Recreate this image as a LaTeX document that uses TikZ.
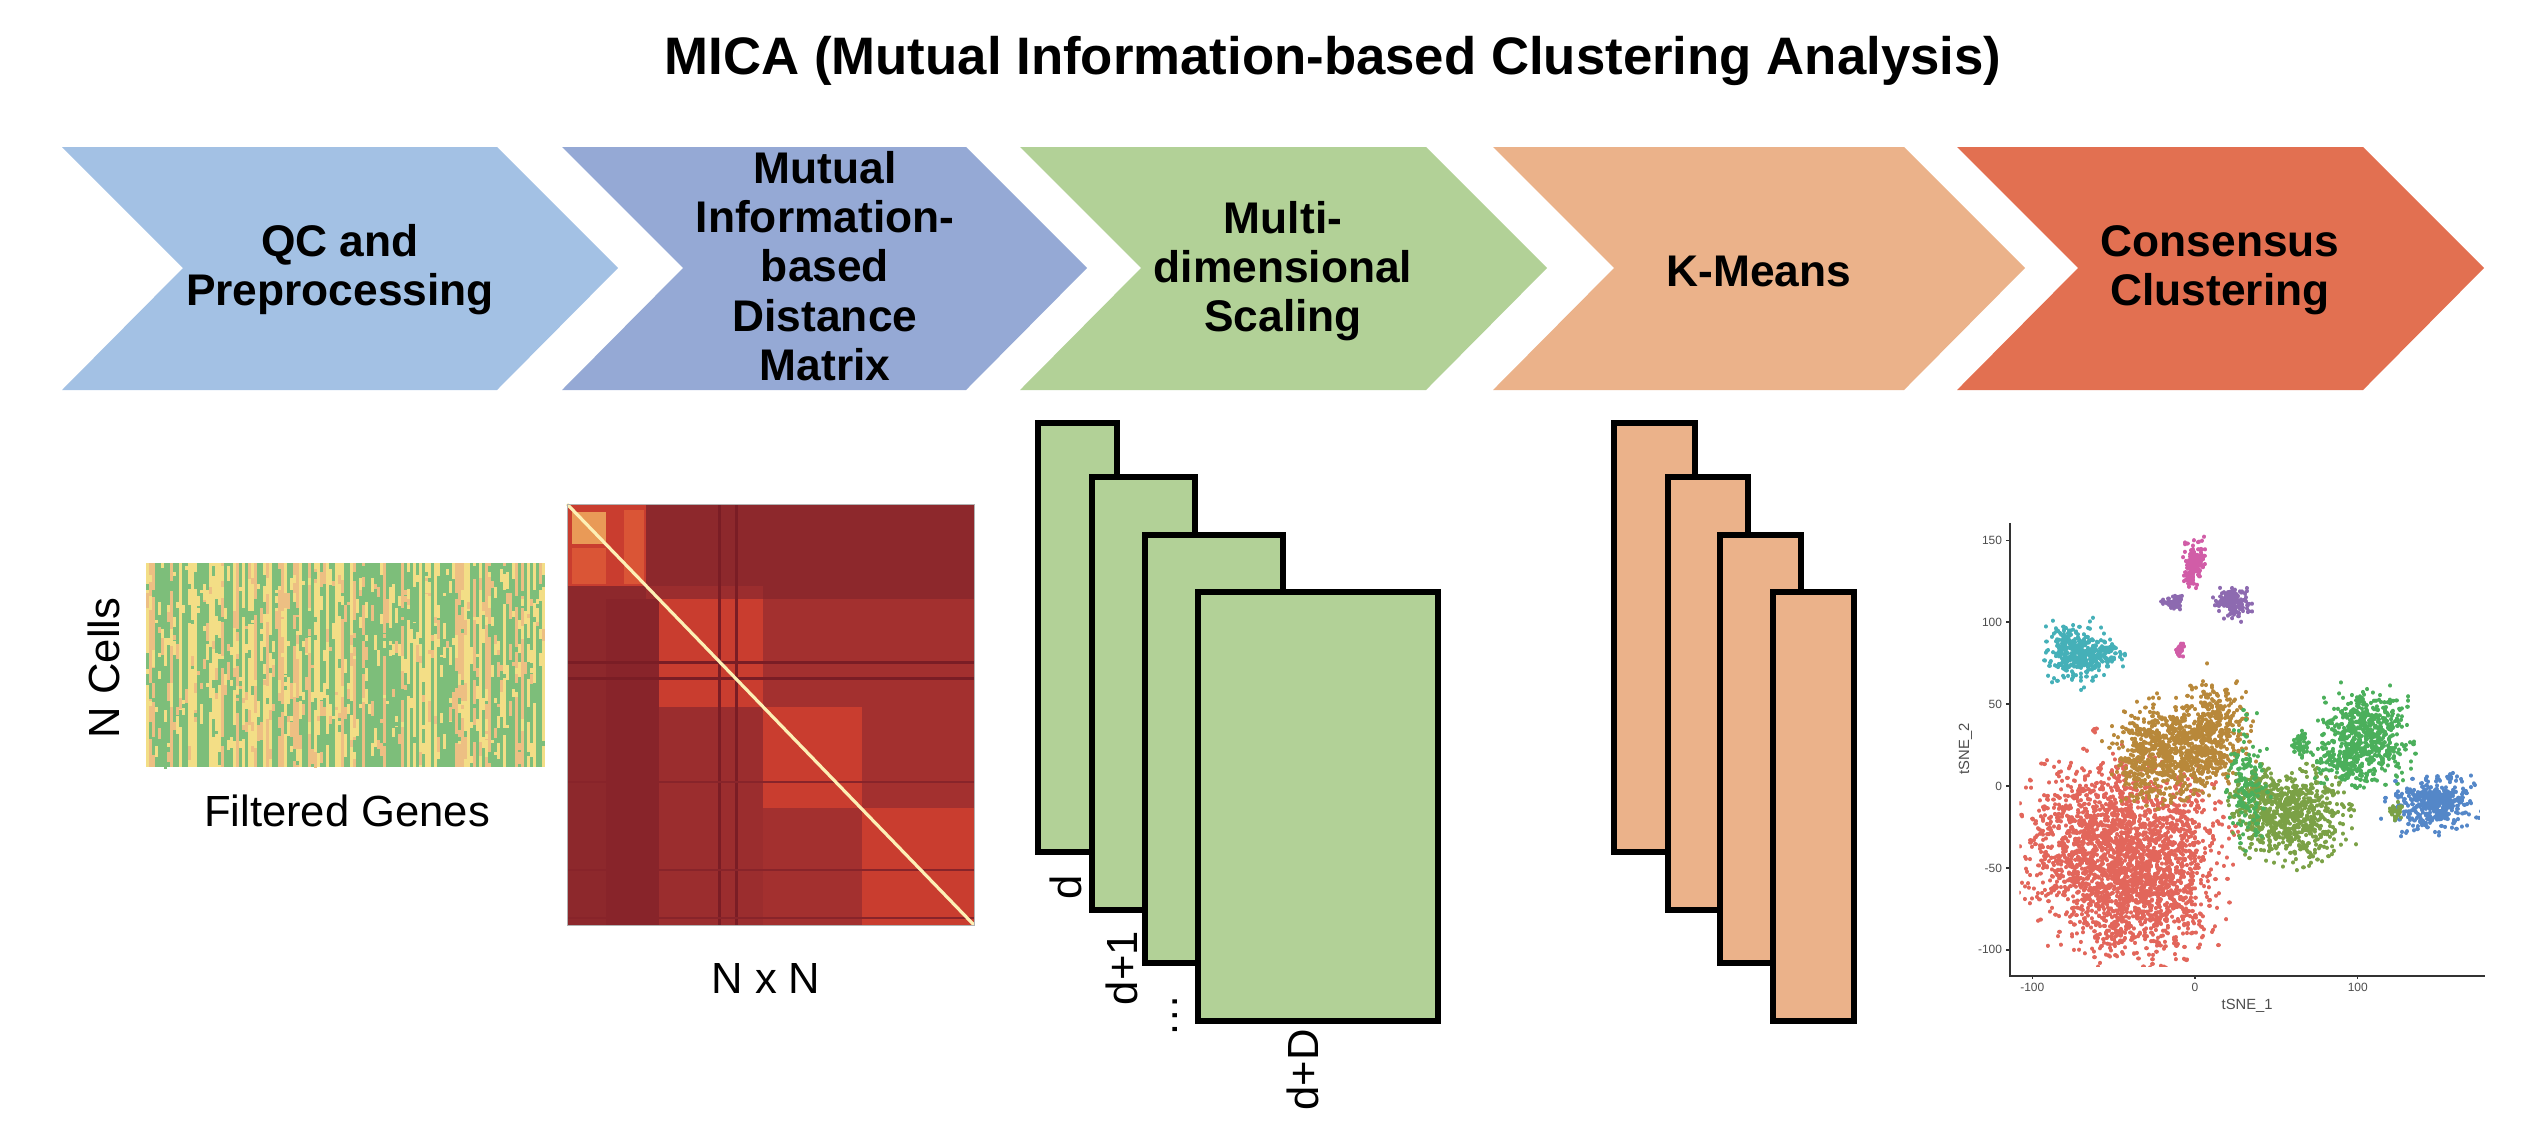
\documentclass[tikz,border=0pt]{standalone}
\usepackage{fontspec}
\setmainfont{Liberation Sans}
\usetikzlibrary{positioning}

\definecolor{chA}{HTML}{A3C1E4}
\definecolor{chB}{HTML}{95A9D5}
\definecolor{chC}{HTML}{B2D197}
\definecolor{chD}{HTML}{EBB28A}
\definecolor{chE}{HTML}{E27051}
\definecolor{hm0}{HTML}{7DBE7A}
\definecolor{hm1}{HTML}{F3DE86}
\definecolor{hm2}{HTML}{EDBF83}
\definecolor{mxdark}{HTML}{8D282C}
\definecolor{mxband}{HTML}{88242A}
\definecolor{mxmid}{HTML}{9B2D2E}
\definecolor{mxmidb}{HTML}{A3302F}
\definecolor{mxred}{HTML}{C93D2F}
\definecolor{mxlight}{HTML}{DA5536}
\definecolor{mxorange}{HTML}{E99A57}
\definecolor{mxline}{HTML}{7A1D25}
\definecolor{mxdiag}{HTML}{FDF0B5}
\definecolor{clred}{HTML}{E2665B}
\definecolor{clgold}{HTML}{B8883A}
\definecolor{clolive}{HTML}{7BA146}
\definecolor{clgreen}{HTML}{4BAF5B}
\definecolor{clblue}{HTML}{5487C8}
\definecolor{clteal}{HTML}{45B0B8}
\definecolor{clpurple}{HTML}{8D6AB0}
\definecolor{clpink}{HTML}{D15DA7}
\definecolor{tickgray}{HTML}{4D4D4D}

\begin{document}
\begin{tikzpicture}[x=0.01cm, y=-0.01cm,
   stage/.style={font=\bfseries\fontsize{12.6}{14}\selectfont, align=center},
   caption/.style={font=\fontsize{12.4}{14}\selectfont},
   stackbox/.style={draw=black, line width=1.5pt},
   ticklab/.style={font=\fontsize{3.4}{4}\selectfont, text=tickgray, inner sep=1pt},
   tsnedots/.style={line width=1.2pt, line cap=round}]
   \useasboundingbox (0,0) rectangle (2534,1130);
   \node (title) at (1333,61) [font=\bfseries\fontsize{15}{17}\selectfont] {MICA (Mutual Information-based Clustering Analysis)};

   % pipeline chevrons
   \foreach \l/\r/\c in {62/497/chA, 562/966/chB, 1020/1426/chC, 1493/1904/chD, 1957/2363/chE}
      \fill[\c] (\l,147) -- (\r,147) -- (\r+121,268) -- (\r,390) -- (\l,390) -- (\l+121,268) -- cycle;
   \node (qc)  at (340,270)  [stage] {QC and\\Preprocessing};
   \node (mi)  at (825,266)  [stage] {Mutual\\Information-\\based\\Distance\\Matrix};
   \node (mds) at (1283,271) [stage] {Multi-\\dimensional\\Scaling};
   \node (km)  at (1759,271) [stage] {K-Means};
   \node (cc)  at (2220,270) [stage] {Consensus\\Clustering};

   % expression heatmap
   \pgfmathsetseed{7}
   \foreach \i in {0,...,132} {
      \pgfmathtruncatemacro\k{rnd<0.55 ? 0 : (rnd<0.6 ? 1 : 2)}
      \fill[hm\k] (146+3*\i,563) rectangle (149.4+3*\i,767);
      \foreach \j in {1,...,7} {
         \pgfmathtruncatemacro\s{int(2.6*rnd)}
         \pgfmathsetmacro\yy{563+3*int(64*rnd)}
         \fill[hm\s] (146+3*\i,\yy) rectangle (149.4+3*\i,\yy+3+15*rnd);
      }
   }
   \node (ncells) at (104,668) [caption, rotate=90] {N Cells};
   \node (genes) at (347,811) [caption] {Filtered Genes};

   % distance matrix
   \fill[mxdark] (567,504) rectangle (974,925);
   \fill[mxband] (606,599) rectangle (659,925);
   \fill[mxmid] (659,707) rectangle (763,925);
   \fill[mxmid] (646,586) rectangle (763,599);
   \fill[mxmidb] (763,599) rectangle (974,707);
   \fill[mxmidb] (862,707) rectangle (974,808);
   \fill[mxmidb] (763,808) rectangle (862,925);
   \fill[mxred] (567,504) rectangle (646,586);
   \fill[mxlight] (572,548) rectangle (606,584);
   \fill[mxlight] (624,510) rectangle (644,584);
   \fill[mxorange] (572,512) rectangle (606,544);
   \fill[mxred] (659,599) rectangle (763,707);
   \fill[mxred] (763,707) rectangle (862,808);
   \fill[mxred] (862,808) rectangle (974,925);
   \foreach \v in {719,736} \fill[mxline] (\v-1.5,504) rectangle (\v+1.5,925);
   \foreach \v in {662,678} \fill[mxline] (567,\v-1.5) rectangle (974,\v+1.5);
   \foreach \v in {782,870,918} \fill[mxband] (567,\v-1) rectangle (974,\v+1);
   \draw[mxdiag, line width=0.9pt] (567,504) -- (974,925);
   \draw[gray!60, line width=0.2pt] (567,504) rectangle (974,925);
   \node (nxn) at (766,978) [caption] {N x N};

   % MDS and k-means stacks
   \foreach \xa/\ya/\xb/\yb in {1038/423/1117/852, 1092/477/1195/910, 1145/535/1283/963, 1198/592/1438/1021}
      \draw[stackbox, fill=chC] (\xa,\ya) rectangle (\xb,\yb);
   \foreach \xa/\ya/\xb/\yb in {1614/423/1695/852, 1668/477/1748/910, 1720/535/1801/963, 1773/592/1854/1021}
      \draw[stackbox, fill=chD] (\xa,\ya) rectangle (\xb,\yb);
   \node (d0) at (1066,887)  [caption, rotate=90] {d};
   \node (d1) at (1122,968)  [caption, rotate=90] {d+1};
   \node (dd) at (1175,1016) [caption, rotate=90] {\ldots};
   \node (dD) at (1303,1070) [caption, rotate=90] {d+D};

   % tSNE plot
   \begin{scope}[shift={(2195,786)}, x=0.01627cm, y=0.01637cm]
      \begin{scope}
         \clip (-108,-110) rectangle (175,158);
         \foreach \cx/\cy/\rx/\ry/\n/\col in {
            -55/-35/46/42/1500/clred, -35/-70/38/34/800/clred, -8/-32/28/34/300/clred,
            -62/34/2/2/6/clred,
            -10/22/34/27/700/clgold, 12/38/18/26/250/clgold, -35/15/13/22/150/clgold,
            60/-17/29/24/650/clolive, 40/-5/16/16/130/clolive,
            105/30/23/25/550/clgreen, 88/15/13/11/90/clgreen, 32/0/11/32/150/clgreen,
            65/25/6/7/45/clgreen,
            146/-10/21/14/400/clblue, 123/-15/5/4/30/clolive,
            -73/81/16/16/330/clteal, -55/80/9/7/70/clteal,
            0/138/6/10/120/clpink, -2/127/4/5/45/clpink, -9/83/3/3/22/clpink,
            -12/112/7/4/50/clpurple, 23/112/10/8/140/clpurple}
            \draw[\col, tsnedots] \foreach \i in {1,...,\n} {
               ({\cx+1.05*\rx*(rnd+rnd+rnd-1.5)},{\cy+1.05*\ry*(rnd+rnd+rnd-1.5)}) -- ++(0,0.01)};
      \end{scope}
      \draw[black!80, line width=0.5pt] (-113.7,160.7) -- (-113.7,-116) -- (178.2,-116);
      \foreach \v [count=\k] in {-100,-50,0,50,100,150} {
         \draw[black!80, line width=0.4pt] (-113.7,\v) -- (-116,\v);
         \node (yt\k) at (-116,\v) [ticklab, anchor=east] {\v};
      }
      \foreach \v [count=\k] in {-100,0,100} {
         \draw[black!80, line width=0.4pt] (\v,-116) -- (\v,-118);
         \node (xt\k) at (\v,-118) [ticklab, anchor=north] {\v};
      }
      \node (tx) at (32,-134) [ticklab, font=\fontsize{4.2}{5}\selectfont] {tSNE\_1};
      \node (ty) at (-141,22.6) [ticklab, rotate=90, font=\fontsize{4.2}{5}\selectfont] {tSNE\_2};
   \end{scope}
\end{tikzpicture}
\end{document}
